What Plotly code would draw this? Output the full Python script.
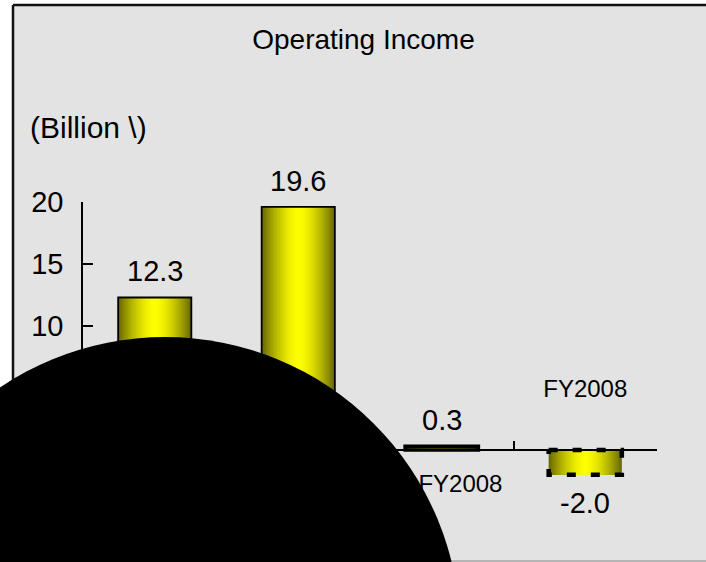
import plotly.graph_objects as go

# ---- data -------------------------------------------------------------
categories = ["FY2006", "FY2007", "1H FY2008", "FY2008"]
income = [12.3, 19.6, 0.3, -2.0]          # billion yen
forecast = [False, False, False, True]    # forecast bars get a dashed outline
y_ticks = [-5, 0, 5, 10, 15, 20]
y_range = [-5, 20]

# ---- canvas geometry --------------------------------------------------
W, H = 706, 562
L, R, T, B = 83, 49, 202, 50
PLOT_W = W - L - R
PLOT_H = H - T - B
PX_PER_UNIT = PLOT_H / (y_range[1] - y_range[0])


def px_x(px):
    """pixel column -> paper x fraction"""
    return (px - L) / PLOT_W


def px_y(py):
    """pixel row -> paper y fraction"""
    return (H - B - py) / PLOT_H


FONT = "Liberation Sans, Arial, sans-serif"
BAR_W = 0.51
xs = list(range(len(categories)))

fig = go.Figure()

# yellow cylinder-like shading: nested bars, darker at the edges
N_LAYERS = 26
dark = (105, 105, 0)
bright = (255, 255, 0)
for k in range(N_LAYERS):
    f = 1 - k / N_LAYERS
    t = f ** 1.6
    c = tuple(round(b - (b - d) * t) for d, b in zip(dark, bright))
    fig.add_trace(go.Bar(
        x=xs, y=income, width=BAR_W * f,
        marker=dict(color=f"rgb{c}", line=dict(width=0)),
        hoverinfo="skip", showlegend=False,
    ))


def outline_width(v, fc):
    # very short bars collapse into a heavy black stroke
    if fc:
        return 0
    return 3.6 if abs(v) * PX_PER_UNIT < 6 else 1.8


# solid outline for actual results
fig.add_trace(go.Bar(
    x=xs, y=income, width=BAR_W,
    marker=dict(color="rgba(0,0,0,0)",
                line=dict(color="black",
                          width=[outline_width(v, fc) for v, fc in zip(income, forecast)])),
    hoverinfo="skip", showlegend=False,
))

# dashed outline for forecast bars
for i, (v, fc) in enumerate(zip(income, forecast)):
    if not fc:
        continue
    x0, x1 = i - BAR_W / 2, i + BAR_W / 2
    fig.add_trace(go.Scatter(
        x=[x0, x1, x1, x0, x0], y=[0, 0, v, v, 0], mode="lines",
        line=dict(color="black", width=4.5, dash="9px,15px"),
        hoverinfo="skip", showlegend=False,
    ))

# category names: below the axis for gains, above it for losses
LABEL_BELOW_PX = 36
LABEL_ABOVE_PX = 59
fig.add_trace(go.Scatter(
    x=xs,
    y=[(LABEL_ABOVE_PX if v < 0 else -LABEL_BELOW_PX) / PX_PER_UNIT for v in income],
    text=categories, mode="text", textposition="middle center",
    textfont=dict(family=FONT, size=24, color="black"),
    cliponaxis=False, hoverinfo="skip", showlegend=False,
))

# value labels
annotations = []
for i, v in enumerate(income):
    annotations.append(dict(
        x=i, y=v, xref="x", yref="y", text=f"{v:.1f}", showarrow=False,
        yanchor="middle", yshift=26 if v >= 0 else -28,
        font=dict(family=FONT, size=29, color="black"),
    ))
annotations.append(dict(
    x=px_x(28), y=px_y(127), xref="paper", yref="paper",
    text="(Billion \\)", showarrow=False, xanchor="left", yanchor="middle",
    font=dict(family=FONT, size=30, color="black"),
))

# chart frame and the large black disc in the lower left
shapes = [
    dict(type="rect", xref="paper", yref="paper", layer="below",
         x0=px_x(13), x1=px_x(730), y0=px_y(5), y1=px_y(570),
         fillcolor="#e3e3e3", line=dict(width=0)),
    dict(type="line", xref="paper", yref="paper", layer="below",
         x0=px_x(13), x1=px_x(730), y0=px_y(5), y1=px_y(5),
         line=dict(color="#111111", width=2.5)),
    dict(type="line", xref="paper", yref="paper", layer="below",
         x0=px_x(13), x1=px_x(13), y0=px_y(5), y1=px_y(570),
         line=dict(color="#111111", width=2.5)),
    dict(type="line", xref="paper", yref="paper", layer="below",
         x0=px_x(13), x1=px_x(730), y0=px_y(561), y1=px_y(561),
         line=dict(color="#888888", width=1.2)),
    dict(type="circle", xref="paper", yref="paper", layer="above",
         x0=px_x(165 - 295), x1=px_x(165 + 295),
         y0=px_y(632 + 295), y1=px_y(632 - 295),
         fillcolor="black", line=dict(width=0)),
]

fig.update_layout(
    width=W, height=H,
    margin=dict(l=L, r=R, t=T, b=B, pad=0),
    paper_bgcolor="white", plot_bgcolor="rgba(0,0,0,0)",
    barmode="overlay", showlegend=False,
    title=dict(text="Operating Income", x=363.5 / W, xref="container", xanchor="center",
               y=1 - 39 / H, yref="container", yanchor="middle",
               font=dict(family=FONT, size=28, color="black")),
    xaxis=dict(range=[-0.5, len(categories) - 0.5],
               tickvals=[i - 0.5 for i in range(len(categories) + 1)],
               showticklabels=False, ticks="inside", ticklen=8, tickwidth=1.5,
               tickcolor="black", showline=True, linecolor="black", linewidth=1.5,
               showgrid=False, zeroline=False, anchor="free",
               position=(0 - y_range[0]) / (y_range[1] - y_range[0])),
    yaxis=dict(range=y_range, tickvals=y_ticks, ticks="inside", ticklen=10,
               tickwidth=1.5, tickcolor="black", showline=True, linecolor="black",
               linewidth=1.5, showgrid=False, zeroline=False,
               ticklabelstandoff=12,
               tickfont=dict(family=FONT, size=29, color="black")),
    annotations=annotations,
    shapes=shapes,
    font=dict(family=FONT),
)

fig.write_html("out.html")
